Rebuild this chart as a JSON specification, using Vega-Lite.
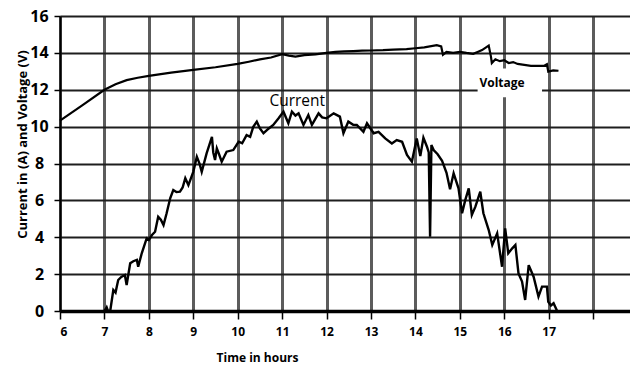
{
  "$schema": "https://vega.github.io/schema/vega-lite/v6.json",
  "width": 570,
  "height": 295,
  "autosize": {"type": "none"},
  "padding": {"left": 60, "top": 16, "right": 0, "bottom": 56},
  "background": "white",
  "config": {
    "view": {"stroke": null},
    "font": "Open Sans"
  },
  "datasets": {
    "voltage": [
      {"t": 6.0, "v": 10.33}, {"t": 6.5, "v": 11.15}, {"t": 7.0, "v": 12.0}, {"t": 7.25, "v": 12.3},
      {"t": 7.5, "v": 12.52}, {"t": 7.75, "v": 12.65}, {"t": 8.0, "v": 12.75}, {"t": 8.5, "v": 12.93},
      {"t": 9.0, "v": 13.08}, {"t": 9.5, "v": 13.22}, {"t": 10.0, "v": 13.4}, {"t": 10.25, "v": 13.52},
      {"t": 10.5, "v": 13.65}, {"t": 10.75, "v": 13.75}, {"t": 11.0, "v": 13.93}, {"t": 11.15, "v": 13.85},
      {"t": 11.3, "v": 13.8}, {"t": 11.5, "v": 13.88}, {"t": 11.75, "v": 13.92}, {"t": 12.0, "v": 14.0},
      {"t": 12.2, "v": 14.05}, {"t": 12.4, "v": 14.08}, {"t": 12.6, "v": 14.1}, {"t": 12.8, "v": 14.12},
      {"t": 13.0, "v": 14.13}, {"t": 13.27, "v": 14.15}, {"t": 13.5, "v": 14.18}, {"t": 13.8, "v": 14.2},
      {"t": 14.0, "v": 14.25}, {"t": 14.2, "v": 14.3}, {"t": 14.48, "v": 14.42}, {"t": 14.58, "v": 14.35},
      {"t": 14.62, "v": 13.9}, {"t": 14.7, "v": 14.05}, {"t": 14.85, "v": 14.0}, {"t": 15.0, "v": 14.06},
      {"t": 15.15, "v": 14.0}, {"t": 15.3, "v": 13.95}, {"t": 15.4, "v": 14.05}, {"t": 15.5, "v": 14.15},
      {"t": 15.65, "v": 14.4}, {"t": 15.7, "v": 13.8}, {"t": 15.72, "v": 13.45}, {"t": 15.8, "v": 13.65},
      {"t": 15.9, "v": 13.55}, {"t": 16.0, "v": 13.6}, {"t": 16.1, "v": 13.45}, {"t": 16.2, "v": 13.5},
      {"t": 16.3, "v": 13.4}, {"t": 16.45, "v": 13.35}, {"t": 16.6, "v": 13.3}, {"t": 16.75, "v": 13.3},
      {"t": 16.9, "v": 13.3}, {"t": 16.96, "v": 13.38}, {"t": 16.99, "v": 12.98}, {"t": 17.1, "v": 13.05},
      {"t": 17.22, "v": 13.03}
    ],
    "current": [
      {"t": 7.0, "v": 0}, {"t": 7.05, "v": 0.2}, {"t": 7.08, "v": 0}, {"t": 7.13, "v": 0},
      {"t": 7.2, "v": 1.14}, {"t": 7.25, "v": 1.0}, {"t": 7.31, "v": 1.68}, {"t": 7.38, "v": 1.85},
      {"t": 7.46, "v": 1.95}, {"t": 7.5, "v": 1.41}, {"t": 7.58, "v": 2.59}, {"t": 7.65, "v": 2.7},
      {"t": 7.73, "v": 2.77}, {"t": 7.76, "v": 2.4}, {"t": 7.84, "v": 3.13}, {"t": 7.95, "v": 3.94},
      {"t": 8.0, "v": 3.85}, {"t": 8.07, "v": 4.12}, {"t": 8.14, "v": 4.3}, {"t": 8.21, "v": 5.11},
      {"t": 8.27, "v": 4.95}, {"t": 8.33, "v": 4.66}, {"t": 8.4, "v": 5.3}, {"t": 8.48, "v": 6.11},
      {"t": 8.55, "v": 6.56}, {"t": 8.62, "v": 6.45}, {"t": 8.7, "v": 6.47}, {"t": 8.76, "v": 6.7},
      {"t": 8.82, "v": 7.2}, {"t": 8.89, "v": 6.83}, {"t": 9.0, "v": 7.55}, {"t": 9.08, "v": 8.37},
      {"t": 9.14, "v": 8.0}, {"t": 9.19, "v": 7.55}, {"t": 9.3, "v": 8.55}, {"t": 9.42, "v": 9.45},
      {"t": 9.45, "v": 8.6}, {"t": 9.49, "v": 8.19}, {"t": 9.53, "v": 8.82}, {"t": 9.58, "v": 8.5},
      {"t": 9.64, "v": 8.1}, {"t": 9.75, "v": 8.64}, {"t": 9.9, "v": 8.73}, {"t": 10.02, "v": 9.18},
      {"t": 10.1, "v": 9.1}, {"t": 10.2, "v": 9.54}, {"t": 10.28, "v": 9.45}, {"t": 10.35, "v": 9.99},
      {"t": 10.43, "v": 10.27}, {"t": 10.5, "v": 9.9}, {"t": 10.58, "v": 9.64}, {"t": 10.7, "v": 9.9},
      {"t": 10.8, "v": 10.09}, {"t": 10.92, "v": 10.45}, {"t": 11.03, "v": 10.81}, {"t": 11.14, "v": 10.18},
      {"t": 11.22, "v": 10.81}, {"t": 11.3, "v": 10.6}, {"t": 11.37, "v": 10.72}, {"t": 11.48, "v": 10.09},
      {"t": 11.59, "v": 10.63}, {"t": 11.67, "v": 10.09}, {"t": 11.82, "v": 10.72}, {"t": 11.9, "v": 10.5},
      {"t": 12.0, "v": 10.45}, {"t": 12.16, "v": 10.72}, {"t": 12.3, "v": 10.54}, {"t": 12.38, "v": 9.64},
      {"t": 12.49, "v": 10.27}, {"t": 12.6, "v": 10.1}, {"t": 12.68, "v": 10.09}, {"t": 12.83, "v": 9.72},
      {"t": 12.91, "v": 10.18}, {"t": 13.06, "v": 9.64}, {"t": 13.17, "v": 9.72}, {"t": 13.32, "v": 9.36},
      {"t": 13.47, "v": 9.09}, {"t": 13.58, "v": 9.27}, {"t": 13.7, "v": 9.18}, {"t": 13.81, "v": 8.46},
      {"t": 13.92, "v": 8.1}, {"t": 14.03, "v": 9.36}, {"t": 14.11, "v": 8.4}, {"t": 14.18, "v": 9.4},
      {"t": 14.26, "v": 8.91}, {"t": 14.3, "v": 8.6}, {"t": 14.33, "v": 4.03}, {"t": 14.36, "v": 9.0},
      {"t": 14.41, "v": 8.73}, {"t": 14.5, "v": 8.5}, {"t": 14.6, "v": 8.15}, {"t": 14.7, "v": 7.5},
      {"t": 14.78, "v": 6.6}, {"t": 14.86, "v": 7.47}, {"t": 14.97, "v": 6.65}, {"t": 15.05, "v": 5.3},
      {"t": 15.12, "v": 6.0}, {"t": 15.2, "v": 6.65}, {"t": 15.27, "v": 5.21}, {"t": 15.35, "v": 5.66},
      {"t": 15.46, "v": 6.47}, {"t": 15.53, "v": 5.3}, {"t": 15.65, "v": 4.39}, {"t": 15.73, "v": 3.58},
      {"t": 15.84, "v": 4.21}, {"t": 15.95, "v": 2.4}, {"t": 16.02, "v": 4.48}, {"t": 16.09, "v": 3.13},
      {"t": 16.18, "v": 3.4}, {"t": 16.25, "v": 3.58}, {"t": 16.32, "v": 2.04}, {"t": 16.4, "v": 1.6},
      {"t": 16.47, "v": 0.6}, {"t": 16.55, "v": 2.49}, {"t": 16.66, "v": 1.86}, {"t": 16.77, "v": 0.78},
      {"t": 16.85, "v": 1.32}, {"t": 16.96, "v": 1.32}, {"t": 16.99, "v": 0.5}, {"t": 17.05, "v": 0.3},
      {"t": 17.11, "v": 0.42}, {"t": 17.19, "v": 0}
    ],
    "labelCurrent": [{"label": "Current", "t": 11.34, "v": 11.39}],
    "labelVoltage": [{"label": "Voltage", "t": 15.95, "v": 12.36}],
    "boxes": [{"t": 15.4, "t2": 16.85, "v": 11.6, "v2": 13.15}]
  },
  "encoding": {
    "x": {"field": "t", "type": "quantitative", "scale": {"domain": [6, 18.83], "nice": false, "zero": false},
      "axis": {
        "values": [6, 7, 8, 9, 10, 11, 12, 13, 14, 15, 16, 17, 18],
        "labelExpr": "datum.value <= 17 ? datum.label : ''",
        "labelOverlap": false,
        "grid": true, "gridColor": "#5c5c5c", "gridWidth": 3,
        "domain": true, "domainColor": "black", "domainWidth": 3.5,
        "ticks": true, "tickColor": "black", "tickSize": 8, "tickWidth": 1.5,
        "labelFont": "Open Sans", "labelFontWeight": "bold", "labelFontSize": 12, "labelColor": "black", "labelPadding": 7,
        "title": "Time in hours", "titleFont": "Open Sans", "titleFontWeight": "bold", "titleFontSize": 12, "titleColor": "black",
        "titleX": 197, "titleY": 50, "titleAlign": "center", "titleBaseline": "alphabetic"
      }
    },
    "y": {"field": "v", "type": "quantitative", "scale": {"domain": [0, 16], "nice": false},
      "axis": {
        "values": [0, 2, 4, 6, 8, 10, 12, 14, 16],
        "labelExpr": "datum.label",
        "labelOverlap": false,
        "grid": true, "gridColor": "#1e1e1e", "gridWidth": 2.2,
        "domain": true, "domainColor": "black", "domainWidth": 2,
        "ticks": true, "tickColor": "black", "tickSize": 6, "tickWidth": 1.5,
        "labelFont": "Open Sans", "labelFontWeight": "bold", "labelFontSize": 16, "labelColor": "black", "labelPadding": 15, "labelAlign": "center",
        "title": "Current in (A) and Voltage (V)", "titleFont": "Open Sans", "titleFontWeight": "bold", "titleFontSize": 13, "titleColor": "black",
        "titleX": -34, "titleY": 128, "titleAngle": 270, "titleAlign": "center", "titleBaseline": "alphabetic"
      }
    }
  },
  "layer": [
    {
      "data": {"name": "boxes"},
      "mark": {"type": "rect", "color": "white"},
      "encoding": {
        "x2": {"field": "t2"},
        "y2": {"field": "v2"}
      }
    },
    {
      "data": {"name": "voltage"},
      "mark": {"type": "line", "color": "black", "strokeWidth": 2.2, "interpolate": "linear"}
    },
    {
      "data": {"name": "current"},
      "mark": {"type": "line", "color": "black", "strokeWidth": 2.4, "interpolate": "linear"}
    },
    {
      "data": {"name": "labelCurrent"},
      "mark": {"type": "text", "font": "Open Sans", "fontSize": 15.5, "fontWeight": 500, "color": "black", "align": "center", "baseline": "middle"},
      "encoding": {"text": {"field": "label"}}
    },
    {
      "data": {"name": "labelVoltage"},
      "mark": {"type": "text", "font": "Open Sans", "fontSize": 12, "fontWeight": "bold", "color": "black", "align": "center", "baseline": "middle"},
      "encoding": {"text": {"field": "label"}}
    }
  ]
}
